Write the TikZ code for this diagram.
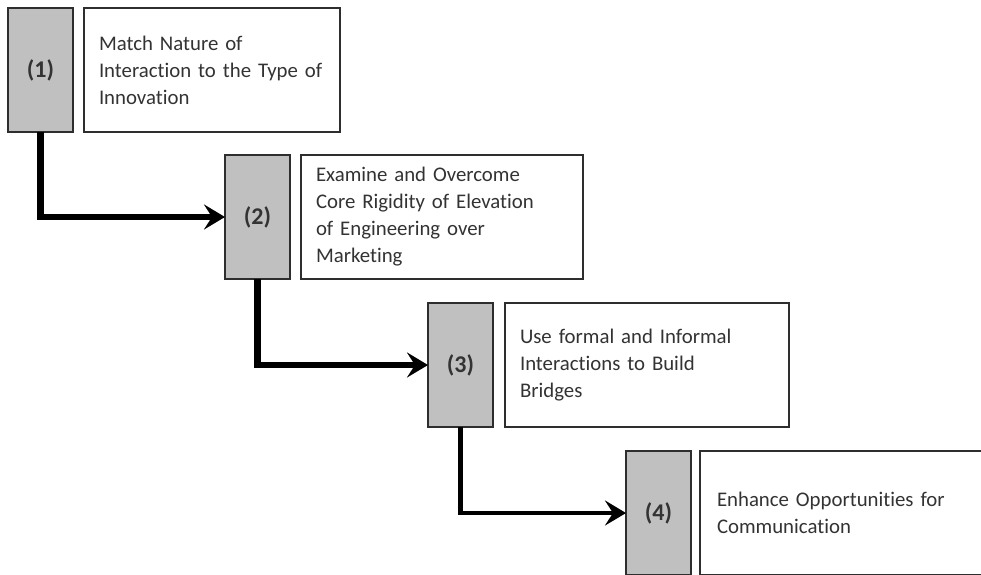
\documentclass[tikz,border=0pt]{standalone}
\usepackage{fontspec}
\setmainfont{Carlito}[Ligatures=NoCommon]
\usetikzlibrary{arrows.meta}
\definecolor{stepgray}{HTML}{C0C0C0}
\definecolor{edgegray}{HTML}{2E2E2E}
\definecolor{inkgray}{HTML}{333333}
\tikzset{
  numbox/.style={draw=edgegray, line width=2pt, fill=stepgray, anchor=north west,
    minimum width=65pt, minimum height=124pt, inner sep=0pt, outer sep=0pt,
    text=inkgray, font=\bfseries\fontsize{24}{26}\selectfont},
  textbox/.style={draw=edgegray, line width=2pt, fill=white, anchor=north west,
    minimum height=124pt, inner xsep=15pt, inner ysep=0pt, outer sep=0pt,
    align=left, text=inkgray, font=\fontsize{20.8}{27}\selectfont},
  flow/.style={line width=6.5pt, draw=black,
    -{Stealth[length=21pt,width=25pt,inset=8pt]}},
  flowthin/.style={line width=4.5pt, draw=black,
    -{Stealth[length=21pt,width=25pt,inset=8pt]}}
}
\begin{document}
\begin{tikzpicture}[x=1pt,y=-1pt]
  \useasboundingbox (0,0) rectangle (981,574);

  % step 1
  \node[numbox] (g1) at (8,8) {(1)};
  \node[textbox, text width=226pt, minimum width=256pt] (t1) at (84,8)
    {Match Nature of\\Interaction to the Type of\\Innovation};

  % step 2
  \node[numbox] (g2) at (225,155) {(2)};
  \node[textbox, text width=252pt, minimum width=282pt] (t2) at (301,155)
    {Examine and Overcome\\Core Rigidity of Elevation\\of Engineering over\\Marketing};

  % step 3
  \node[numbox] (g3) at (428,303) {(3)};
  \node[textbox, text width=254pt, minimum width=284pt] (t3) at (505,303)
    {Use formal and Informal\\Interactions to Build\\Bridges};

  % step 4
  \node[numbox] (g4) at (626,451) {(4)};
  \node[textbox, text width=270pt, minimum width=300pt, inner xsep=17pt] (t4) at (700,451)
    {Enhance Opportunities for\\Communication};

  % connectors
  \draw[flow] (g1.south) |- (g2.west);
  \draw[flow] (g2.south) |- (g3.west);
  \draw[flowthin] (g3.south) |- (g4.west);
\end{tikzpicture}
\end{document}
